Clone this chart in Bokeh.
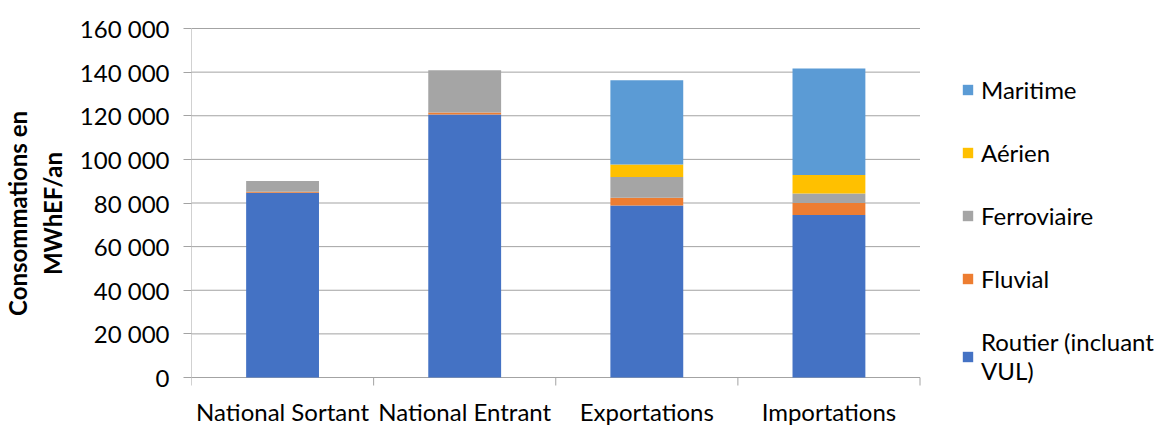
import numpy as np
from bokeh.plotting import figure
from bokeh.core.properties import value
from bokeh.models import ColumnDataSource, FixedTicker, Legend, LegendItem, Range1d
from bokeh.embed import file_html
from bokeh.resources import INLINE

categories = ["National Sortant", "National Entrant", "Exportations", "Importations"]
series = ["Routier (incluant VUL)", "Fluvial", "Ferroviaire", "Aérien", "Maritime"]
routier = [84700, 120600, 78800, 74500]
fluvial = [500, 900, 3600, 5500]
ferroviaire = [4900, 19400, 9500, 4300]
aerien = [0, 0, 5700, 8500]
maritime = [0, 0, 38700, 48900]
colors = ["#4472C4", "#ED7D31", "#A5A5A5", "#FFC000", "#5B9BD5"]
y_ticks = [0, 20000, 40000, 60000, 80000, 100000, 120000, 140000, 160000]
y_tick_labels = ["0", "20 000", "40 000", "60 000", "80 000", "100 000", "120 000", "140 000", "160 000"]
legend_labels = ["Routier (incluant\nVUL)", "Fluvial", "Ferroviaire", "Aérien", "Maritime"]

FONT = "Lato"
GRID = "#a3a3a3"
W, H = 1165, 426
LEFT = 189                     # left border (y axis panel)
PLOT_TOP, PLOT_BOTTOM = 28, 377   # pixel rows of y max / y = 0
CAT_W = 182.5                  # pixel width of one category
YMAX = y_ticks[-1]
u = YMAX / (PLOT_BOTTOM - PLOT_TOP)          # data units per pixel (y)
y_lo = -(H - PLOT_BOTTOM) * u
y_hi = YMAX + PLOT_TOP * u
x_hi = (W - LEFT) / CAT_W

keys = ["routier", "fluvial", "ferroviaire", "aerien", "maritime"]
n = len(categories)
x = list(np.arange(n) + 0.5)
source = ColumnDataSource(dict(x=x, routier=routier, fluvial=fluvial, ferroviaire=ferroviaire,
                               aerien=aerien, maritime=maritime))

p = figure(width=W, height=H, output_backend="svg", toolbar_location=None,
           x_range=Range1d(0, x_hi), y_range=Range1d(y_lo, y_hi),
           x_axis_location=None,
           min_border_left=LEFT, min_border_right=0, min_border_top=0, min_border_bottom=0)
p.outline_line_color = None
p.background_fill_color = "white"
p.border_fill_color = "white"
p.xgrid.grid_line_color = None
p.ygrid.grid_line_color = None

# gridlines (limited to the category area)
p.segment(x0=[0] * len(y_ticks), x1=[n] * len(y_ticks), y0=y_ticks, y1=y_ticks,
          line_color=GRID, line_width=1)
# y axis line
p.segment(x0=[0], x1=[0], y0=[0], y1=[YMAX], line_color=GRID, line_width=1)
# category boundary ticks
bounds = list(range(n + 1))
p.segment(x0=bounds, x1=bounds, y0=[0] * (n + 1), y1=[-8 * u] * (n + 1), line_color=GRID, line_width=1)

renderers = p.vbar_stack(keys, x="x", width=0.4, source=source, color=colors, line_color=None)

# category labels
p.text(x=x, y=[-34 * u] * n, text=categories, text_align="center", text_baseline="middle",
       text_font=value(FONT), text_font_size="24px", text_color="black")

# y axis
p.yaxis.ticker = FixedTicker(ticks=y_ticks)
p.yaxis.major_label_overrides = {t: l for t, l in zip(y_ticks, y_tick_labels)}
p.yaxis.major_label_text_font = FONT
p.yaxis.major_label_text_font_size = "24px"
p.yaxis.major_label_text_color = "black"
p.yaxis.major_tick_out = 8
p.yaxis.major_tick_in = 0
p.yaxis.minor_tick_line_color = None
p.yaxis.axis_line_color = None
p.yaxis.major_tick_line_color = GRID
p.yaxis.major_label_standoff = 14
p.yaxis.axis_label = "Consommations en\nMWhEF/an"
p.yaxis.axis_label_text_font = FONT
p.yaxis.axis_label_text_font_style = "bold"
p.yaxis.axis_label_text_font_size = "24px"
p.yaxis.axis_label_text_color = "black"
p.yaxis.axis_label_standoff = 10

items = [LegendItem(label=legend_labels[i], renderers=[renderers[i]]) for i in range(len(keys) - 1, -1, -1)]
legend = Legend(items=items, location=(770, 41), orientation="vertical",
                label_text_font=FONT, label_text_font_size="24px", label_text_color="black",
                glyph_width=13, glyph_height=13, label_standoff=7, spacing=34,
                padding=0, margin=0, border_line_color=None, background_fill_alpha=0)
p.add_layout(legend)

open("out.html", "w").write(file_html(p, INLINE))
